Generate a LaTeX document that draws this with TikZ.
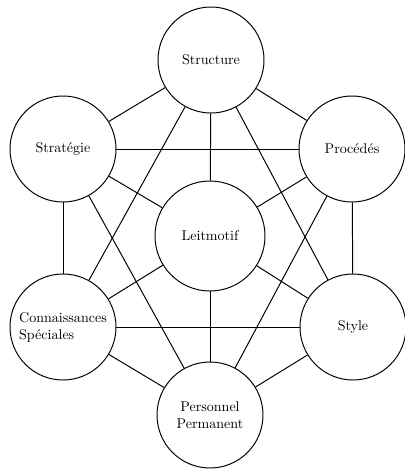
\documentclass[tikz,border=0pt]{standalone}
\usepackage{tikz}
\usetikzlibrary{positioning}
\tikzset{%
	every theme/.style={
		circle,
		draw,
		line width=0.7pt,
		inner sep=0pt,
		minimum size=26.5mm,
		font=\normalsize
	},
	link/.style={
		line width=0.7pt
	},
}
\begin{document}
\begin{tikzpicture}[x=0.25mm, y=-0.25mm]
			% Fix the frame
			\useasboundingbox (0,0) rectangle (405,469);
			
			% Draw the circles
			\node[every theme] (structure) at (211,60) {Structure};
			\node[every theme] (strategie) at (63,149) {Stratégie};
			\node[every theme] (procedes) at (352,149) {Procédés};
			\node[every theme, minimum size=27.5mm] (leitmotif) at (210,236) {Leitmotif};
			\node[every theme, align=left] (connaissances) at (63,327) {Connaissances\\Spéciales};
			\node[every theme] (style) at (353,327) {Style};
			\node[every theme, align=center] (personnel) at (210,415) {Personnel\\Permanent};
			
			% Draw the links
			\foreach \a/\b in {structure/strategie, structure/procedes, structure/leitmotif,
				structure/connaissances, structure/style,
				strategie/procedes, strategie/leitmotif, strategie/connaissances, strategie/personnel,
				procedes/leitmotif, procedes/style, procedes/personnel,
				leitmotif/connaissances, leitmotif/style, leitmotif/personnel,
				connaissances/style, connaissances/personnel,
				style/personnel}
				\draw[link] (\a) -- (\b);
		\end{tikzpicture}
\end{document}
